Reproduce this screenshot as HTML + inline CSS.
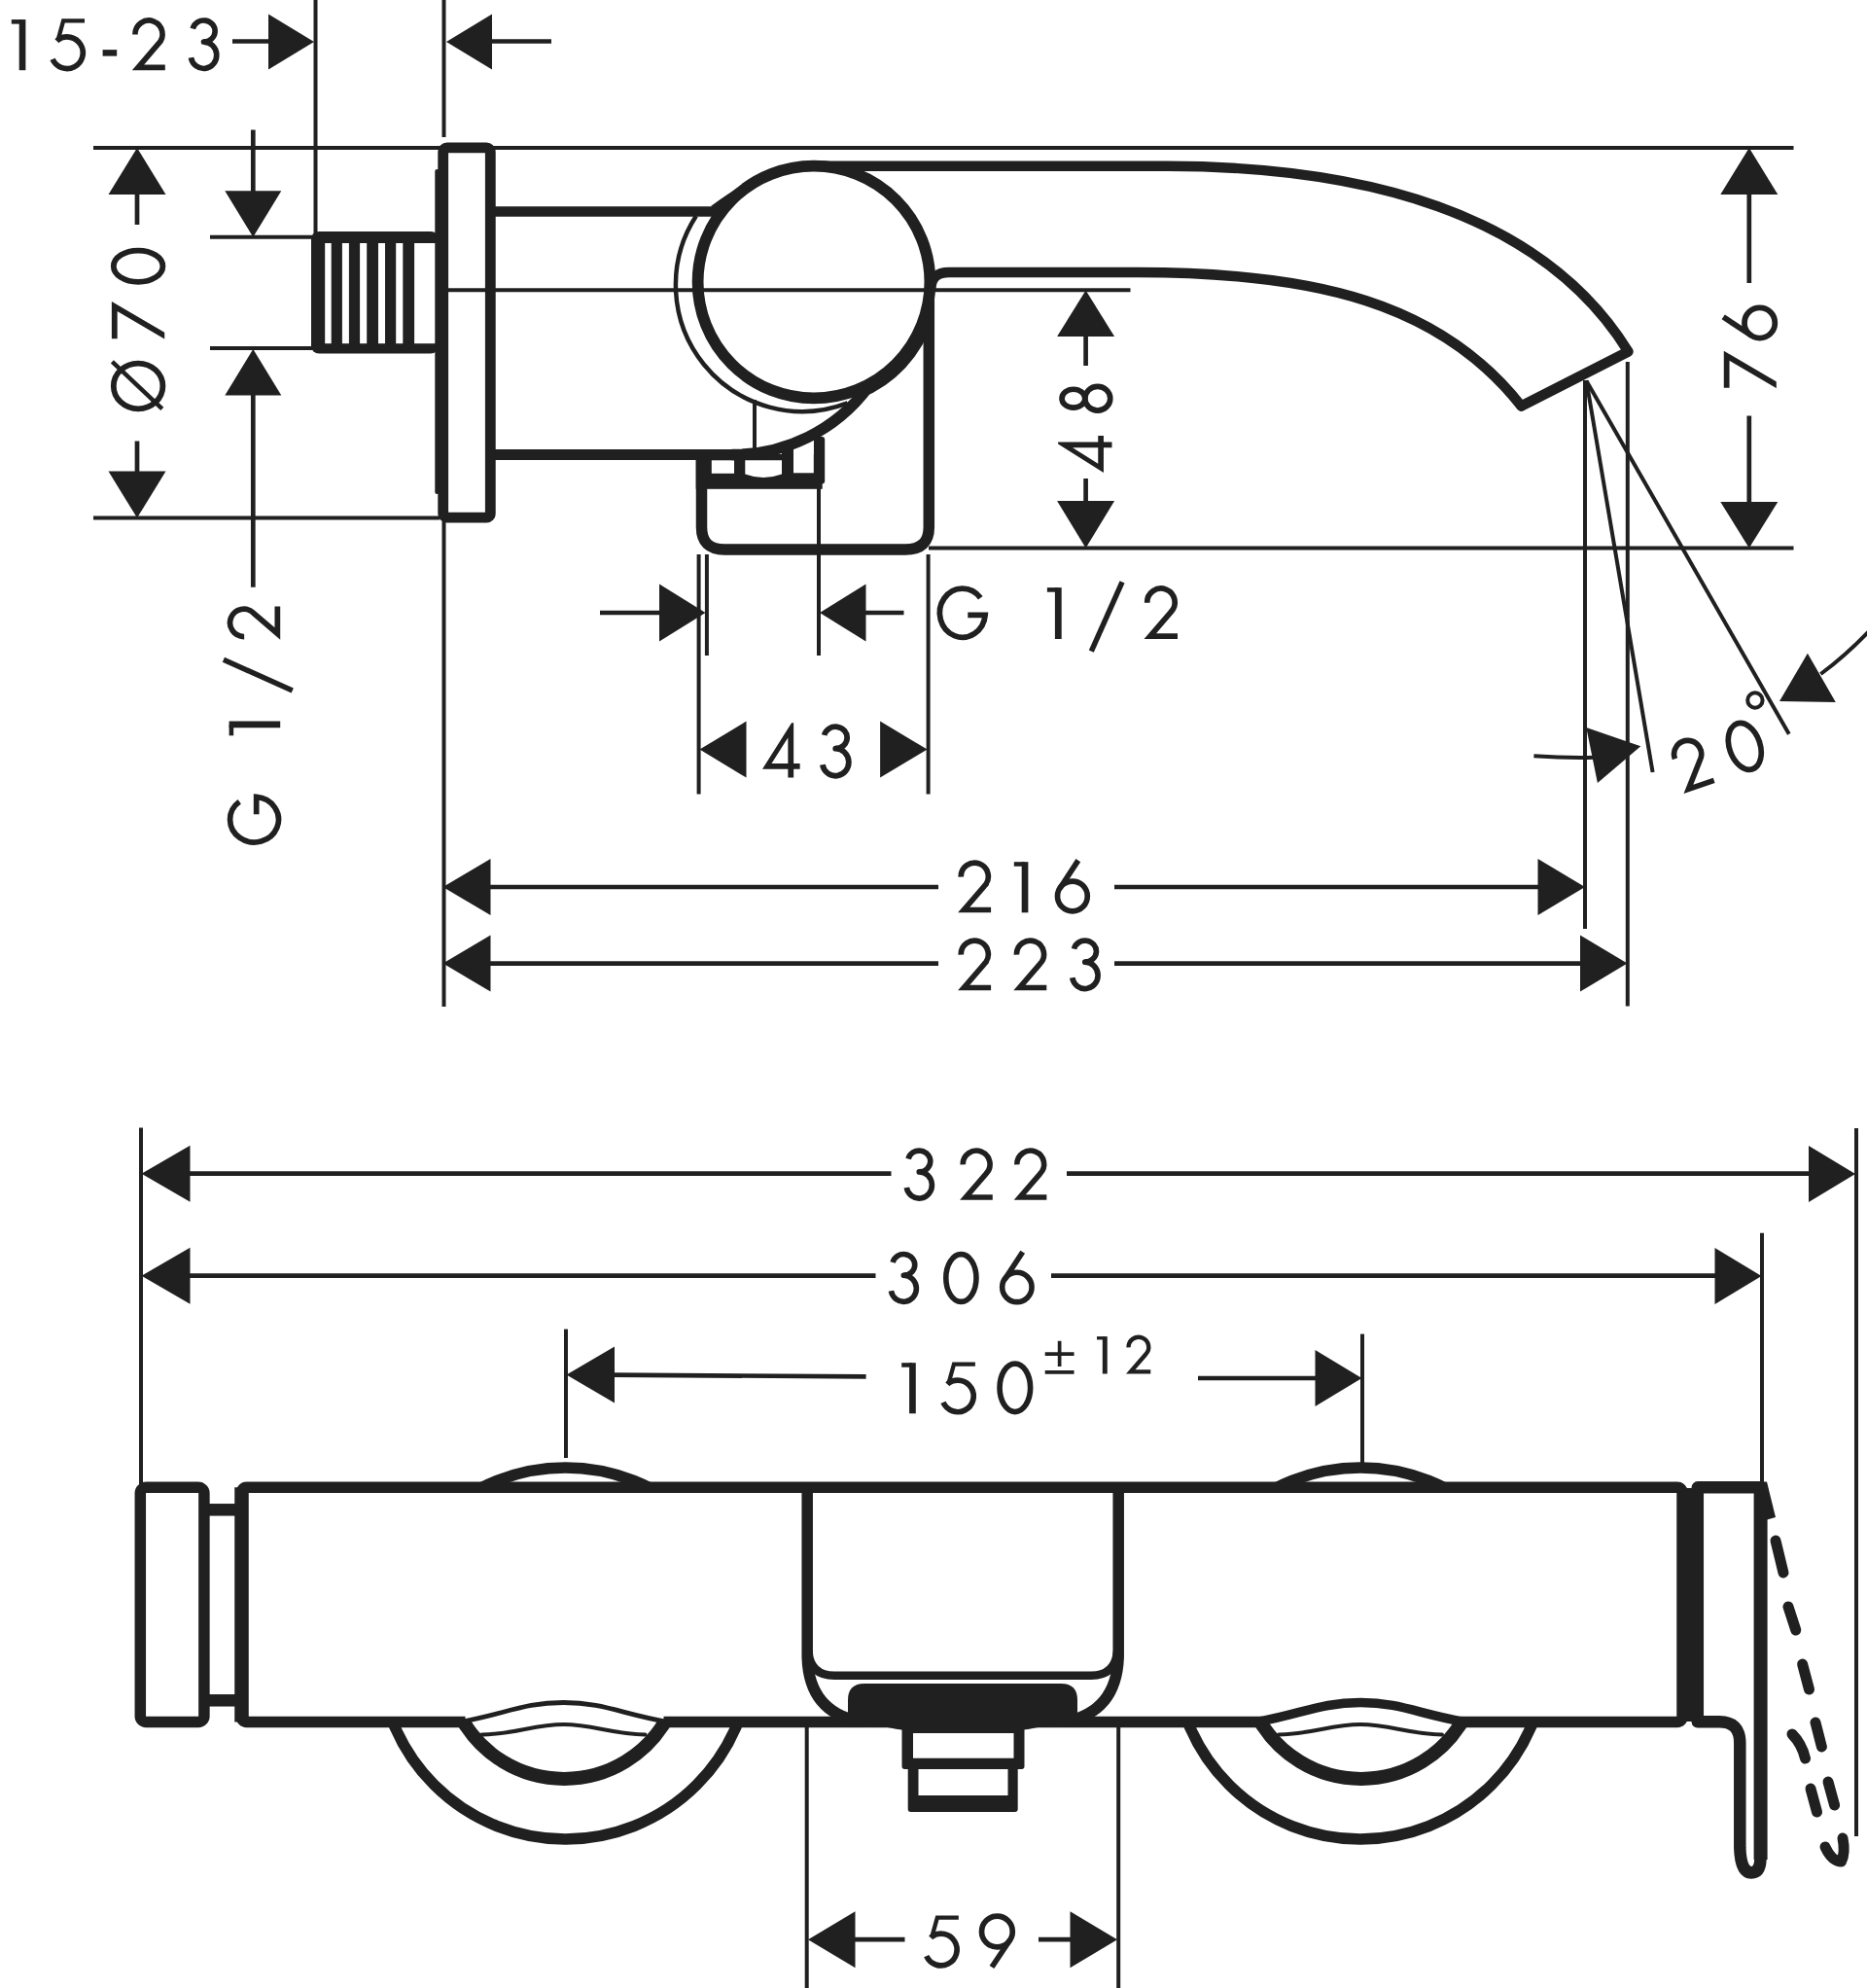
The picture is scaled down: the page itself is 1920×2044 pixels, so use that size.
<!DOCTYPE html>
<html lang="en">
<head>
<meta charset="utf-8">
<title>Dimension drawing</title>
<style>
html,body{margin:0;padding:0;background:#fff;font-family:"Liberation Sans",sans-serif;}
body{width:1920px;height:2044px;overflow:hidden;}
svg{display:block;}
</style>
</head>
<body>
<svg width="1920" height="2044" viewBox="0 0 1920 2044" stroke="#202020" fill="none">
<defs><clipPath id="gclip"><rect x="-40" y="-3" width="200" height="103"/></clipPath></defs>
<rect x="0" y="0" width="1920" height="2044" fill="#fff" stroke="none"/>
<!-- top view : dimension lines -->
<line x1="324.5" y1="0" x2="324.5" y2="241" stroke-width="4.0" stroke-linecap="butt"/>
<line x1="456.5" y1="0" x2="456.5" y2="141" stroke-width="4.0" stroke-linecap="butt"/>
<line x1="456.5" y1="536" x2="456.5" y2="1035" stroke-width="4.0" stroke-linecap="butt"/>
<line x1="96" y1="152" x2="1844.5" y2="152" stroke-width="4.0" stroke-linecap="butt"/>
<line x1="96" y1="532.6" x2="452" y2="532.6" stroke-width="4.0" stroke-linecap="butt"/>
<g transform="translate(11.80,18.20) scale(0.5400)" stroke-width="10.50" fill="none"><path d="M0,7.7 H20" stroke-width="8.4" stroke-linecap="butt"/><path d="M20.8,3.5 V100" stroke-width="12.4" stroke-linecap="butt"/></g>
<g transform="translate(51.90,18.20) scale(0.5400)" stroke-width="10.50" fill="none"><path d="M65,6 H24.5 L14.5,42" stroke-width="8" stroke-linejoin="miter" stroke-linecap="butt"/><path d="M12.2,44.5 L14.5,42 A30.2,30.2 0 1 1 4,79" stroke-linejoin="bevel" stroke-linecap="butt"/></g>
<g transform="translate(105.60,18.20) scale(0.5400)" stroke-width="10.50" fill="none"><path d="M0,67 H27" stroke-linecap="butt" stroke-width="12"/></g>
<g transform="translate(135.50,18.20) scale(0.5400)" stroke-width="10.50" fill="none"><path d="M6.4,32 A26,26 0 1 1 50.8,49.6 L12,94.75 H63.5" stroke-linejoin="miter" stroke-linecap="butt"/></g>
<g transform="translate(194.00,18.20) scale(0.5400)" stroke-width="10.50" fill="none"><path d="M7.8,21 A21.5,20.4 0 1 1 28.7,46 A24.6,25.4 0 1 1 4.5,76" stroke-linejoin="round" stroke-linecap="butt"/></g>
<line x1="239" y1="42.5" x2="280" y2="42.5" stroke-width="4.7" stroke-linecap="butt"/>
<polygon points="323.0,43.0 276.0,14.5 276.0,71.5" fill="#202020" stroke="none"/>
<polygon points="459.0,43.0 506.0,14.5 506.0,71.5" fill="#202020" stroke="none"/>
<line x1="503" y1="42.5" x2="567" y2="42.5" stroke-width="4.7" stroke-linecap="butt"/>
<polygon points="141.0,152.0 111.5,200.0 170.5,200.0" fill="#202020" stroke="none"/>
<line x1="141" y1="198" x2="141" y2="231" stroke-width="4.7" stroke-linecap="butt"/>
<line x1="141" y1="453.5" x2="141" y2="487" stroke-width="4.7" stroke-linecap="butt"/>
<polygon points="141.0,532.6 111.5,484.6 170.5,484.6" fill="#202020" stroke="none"/>
<g transform="translate(113.90,423.20) rotate(-90) scale(0.5530)" stroke-width="10.50" fill="none"><ellipse cx="47.5" cy="51" rx="42.25" ry="45.75"/><path d="M93,2.7 L5.3,95.6" stroke-linecap="butt" stroke-width="8"/></g>
<g transform="translate(113.90,348.20) rotate(-90) scale(0.5530)" stroke-width="10.50" fill="none"><path d="M0,7 H60 L1.8,106" stroke-linejoin="miter" stroke-linecap="butt" clip-path="url(#gclip)"/></g>
<g transform="translate(113.90,292.80) rotate(-90) scale(0.5530)" stroke-width="10.50" fill="none"><ellipse cx="34.5" cy="51" rx="29.25" ry="45.75"/></g>
<line x1="260.3" y1="133.5" x2="260.3" y2="198" stroke-width="4.7" stroke-linecap="butt"/>
<polygon points="260.3,243.7 231.3,196.2 289.3,196.2" fill="#202020" stroke="none"/>
<line x1="216" y1="243.7" x2="324" y2="243.7" stroke-width="4.0" stroke-linecap="butt"/>
<line x1="216" y1="358" x2="324" y2="358" stroke-width="4.0" stroke-linecap="butt"/>
<polygon points="260.3,359.0 231.3,406.5 289.3,406.5" fill="#202020" stroke="none"/>
<line x1="260.3" y1="405" x2="260.3" y2="603.7" stroke-width="4.7" stroke-linecap="butt"/>
<g transform="translate(233.70,868.80) rotate(-90) scale(0.5450)" stroke-width="10.50" fill="none"><path d="M81.8,23 A42.75,45.75 0 1 0 90.6,55 H58" stroke-linejoin="miter" stroke-linecap="butt"/></g>
<g transform="translate(233.70,756.30) rotate(-90) scale(0.5450)" stroke-width="10.50" fill="none"><path d="M0,7.7 H20" stroke-width="8.4" stroke-linecap="butt"/><path d="M20.8,3.5 V100" stroke-width="12.4" stroke-linecap="butt"/></g>
<g transform="translate(233.70,713.20) rotate(-90) scale(0.5450)" stroke-width="10.50" fill="none"><path d="M64,-7 L6,123" stroke-linecap="butt" stroke-width="10"/></g>
<g transform="translate(233.70,658.00) rotate(-90) scale(0.5450)" stroke-width="10.50" fill="none"><path d="M6.4,32 A26,26 0 1 1 50.8,49.6 L12,94.75 H63.5" stroke-linejoin="miter" stroke-linecap="butt"/></g>
<polygon points="1116.6,298.5 1087.1,346.0 1146.1,346.0" fill="#202020" stroke="none"/>
<line x1="1116.6" y1="345" x2="1116.6" y2="376" stroke-width="4.7" stroke-linecap="butt"/>
<line x1="1116.6" y1="492" x2="1116.6" y2="518" stroke-width="4.7" stroke-linecap="butt"/>
<polygon points="1116.6,563.5 1087.1,515.0 1146.1,515.0" fill="#202020" stroke="none"/>
<g transform="translate(1089.20,486.10) rotate(-90) scale(0.5430)" stroke-width="10.50" fill="none"><path d="M0,84.25 L54.5,-2 H58.25 V73.75 H70 V84.25 H58.25 V100 H47.75 V84.25 Z M47.75,73.75 V25.5 L17.2,73.75 Z" fill="#202020" fill-rule="evenodd" stroke="none"/></g>
<g transform="translate(1089.20,424.90) rotate(-90) scale(0.5430)" stroke-width="10.50" fill="none"><ellipse cx="28" cy="27.1" rx="17.4" ry="21.9"/><ellipse cx="28" cy="72.9" rx="22.75" ry="23.9"/></g>
<line x1="955" y1="563.5" x2="1844.5" y2="563.5" stroke-width="4.0" stroke-linecap="butt"/>
<polygon points="1798.8,152.0 1769.3,200.0 1828.3,200.0" fill="#202020" stroke="none"/>
<line x1="1798.8" y1="198" x2="1798.8" y2="291" stroke-width="4.7" stroke-linecap="butt"/>
<line x1="1798.8" y1="427.5" x2="1798.8" y2="518" stroke-width="4.7" stroke-linecap="butt"/>
<polygon points="1798.8,563.5 1769.3,516.0 1828.3,516.0" fill="#202020" stroke="none"/>
<g transform="translate(1771.80,398.70) rotate(-90) scale(0.5500)" stroke-width="10.50" fill="none"><path d="M0,7 H60 L1.8,106" stroke-linejoin="miter" stroke-linecap="butt" clip-path="url(#gclip)"/></g>
<g transform="translate(1771.80,350.40) rotate(-90) scale(0.5500)" stroke-width="10.50" fill="none"><circle cx="33.5" cy="68.8" r="28.5"/><path d="M44.5,0.7 L9.7,53.7" stroke-linecap="butt"/></g>
<line x1="718.6" y1="570" x2="718.6" y2="816.5" stroke-width="4.0" stroke-linecap="butt"/>
<line x1="726.9" y1="570" x2="726.9" y2="674" stroke-width="4.0" stroke-linecap="butt"/>
<line x1="842" y1="500" x2="842" y2="674" stroke-width="4.0" stroke-linecap="butt"/>
<line x1="954.6" y1="570" x2="954.6" y2="816.5" stroke-width="4.0" stroke-linecap="butt"/>
<line x1="617" y1="630" x2="680" y2="630" stroke-width="4.7" stroke-linecap="butt"/>
<polygon points="725.5,630.0 678.0,600.5 678.0,659.5" fill="#202020" stroke="none"/>
<polygon points="843.0,630.0 890.5,600.5 890.5,659.5" fill="#202020" stroke="none"/>
<line x1="888" y1="630" x2="929.5" y2="630" stroke-width="4.7" stroke-linecap="butt"/>
<g transform="translate(963.50,602.20) scale(0.5480)" stroke-width="10.50" fill="none"><path d="M81.8,23 A42.75,45.75 0 1 0 90.6,55 H58" stroke-linejoin="miter" stroke-linecap="butt"/></g>
<g transform="translate(1076.90,602.20) scale(0.5480)" stroke-width="10.50" fill="none"><path d="M0,7.7 H20" stroke-width="8.4" stroke-linecap="butt"/><path d="M20.8,3.5 V100" stroke-width="12.4" stroke-linecap="butt"/></g>
<g transform="translate(1119.00,602.20) scale(0.5480)" stroke-width="10.50" fill="none"><path d="M64,-7 L6,123" stroke-linecap="butt" stroke-width="10"/></g>
<g transform="translate(1176.20,602.20) scale(0.5480)" stroke-width="10.50" fill="none"><path d="M6.4,32 A26,26 0 1 1 50.8,49.6 L12,94.75 H63.5" stroke-linejoin="miter" stroke-linecap="butt"/></g>
<polygon points="719.5,770.6 767.5,741.6 767.5,799.6" fill="#202020" stroke="none"/>
<polygon points="953.6,770.6 905.1,741.6 905.1,799.6" fill="#202020" stroke="none"/>
<g transform="translate(784.00,744.30) scale(0.5520)" stroke-width="10.50" fill="none"><path d="M0,84.25 L54.5,-2 H58.25 V73.75 H70 V84.25 H58.25 V100 H47.75 V84.25 Z M47.75,73.75 V25.5 L17.2,73.75 Z" fill="#202020" fill-rule="evenodd" stroke="none"/></g>
<g transform="translate(843.40,744.30) scale(0.5520)" stroke-width="10.50" fill="none"><path d="M7.8,21 A21.5,20.4 0 1 1 28.7,46 A24.6,25.4 0 1 1 4.5,76" stroke-linejoin="round" stroke-linecap="butt"/></g>
<line x1="1630" y1="391" x2="1630" y2="955" stroke-width="4.0" stroke-linecap="butt"/>
<line x1="1673.8" y1="372" x2="1673.8" y2="1034.5" stroke-width="4.0" stroke-linecap="butt"/>
<line x1="1631.4" y1="391.4" x2="1699.6" y2="794" stroke-width="4.0" stroke-linecap="butt"/>
<line x1="1631.4" y1="391.4" x2="1839.8" y2="754.7" stroke-width="4.0" stroke-linecap="butt"/>
<polygon points="455.5,912.0 504.5,883.0 504.5,941.0" fill="#202020" stroke="none"/>
<line x1="502" y1="912" x2="965" y2="912" stroke-width="4.7" stroke-linecap="butt"/>
<g transform="translate(984.80,884.30) scale(0.5400)" stroke-width="10.50" fill="none"><path d="M6.4,32 A26,26 0 1 1 50.8,49.6 L12,94.75 H63.5" stroke-linejoin="miter" stroke-linecap="butt"/></g>
<g transform="translate(1042.80,884.30) scale(0.5400)" stroke-width="10.50" fill="none"><path d="M0,7.7 H20" stroke-width="8.4" stroke-linecap="butt"/><path d="M20.8,3.5 V100" stroke-width="12.4" stroke-linecap="butt"/></g>
<g transform="translate(1084.80,884.30) scale(0.5400)" stroke-width="10.50" fill="none"><circle cx="33.5" cy="68.8" r="28.5"/><path d="M44.5,0.7 L9.7,53.7" stroke-linecap="butt"/></g>
<line x1="1146" y1="912" x2="1584" y2="912" stroke-width="4.7" stroke-linecap="butt"/>
<polygon points="1630.0,912.0 1581.5,883.0 1581.5,941.0" fill="#202020" stroke="none"/>
<polygon points="455.5,990.6 504.5,961.6 504.5,1019.6" fill="#202020" stroke="none"/>
<line x1="502" y1="990.6" x2="965" y2="990.6" stroke-width="4.7" stroke-linecap="butt"/>
<g transform="translate(984.80,964.30) scale(0.5400)" stroke-width="10.50" fill="none"><path d="M6.4,32 A26,26 0 1 1 50.8,49.6 L12,94.75 H63.5" stroke-linejoin="miter" stroke-linecap="butt"/></g>
<g transform="translate(1042.00,964.30) scale(0.5400)" stroke-width="10.50" fill="none"><path d="M6.4,32 A26,26 0 1 1 50.8,49.6 L12,94.75 H63.5" stroke-linejoin="miter" stroke-linecap="butt"/></g>
<g transform="translate(1100.30,964.30) scale(0.5400)" stroke-width="10.50" fill="none"><path d="M7.8,21 A21.5,20.4 0 1 1 28.7,46 A24.6,25.4 0 1 1 4.5,76" stroke-linejoin="round" stroke-linecap="butt"/></g>
<line x1="1146" y1="990.6" x2="1627" y2="990.6" stroke-width="4.7" stroke-linecap="butt"/>
<polygon points="1673.5,990.6 1625.0,961.6 1625.0,1019.6" fill="#202020" stroke="none"/>
<path d="M1577.4,777.3 Q1610,779.5 1640,778.8" stroke-width="4.0" fill="none" stroke-linejoin="round" stroke-linecap="butt" />
<polygon points="1687.3,767.3 1631.3,748.0 1642.9,804.9" fill="#202020" stroke="none"/>
<polygon points="1830.0,721.0 1858.9,671.8 1887.8,722.0" fill="#202020" stroke="none"/>
<path d="M1872.4,693 Q1898,674 1922,649" stroke-width="4.0" fill="none" stroke-linejoin="round" stroke-linecap="butt" />
<g transform="translate(1713.6,765.1) rotate(-19) scale(0.5400)" stroke-width="10.50" fill="none"><path d="M6.4,32 A26,26 0 1 1 50.8,49.6 L12,94.75 H63.5" stroke-linejoin="miter" stroke-linecap="butt"/></g>
<g transform="translate(1767.7,747.4) rotate(-19) scale(0.5400)" stroke-width="10.50" fill="none"><ellipse cx="34.5" cy="51" rx="29.25" ry="45.75"/></g>
<circle cx="1804.9" cy="720" r="7.7" stroke-width="4" fill="none"/>
<!-- top view : object -->
<rect x="320" y="238" width="131" height="125.5" rx="8" fill="#202020" stroke="none"/>
<rect x="334.2" y="250" width="6.5" height="103.2" fill="#fff" stroke="none"/>
<rect x="351.9" y="250" width="7.0" height="103.2" fill="#fff" stroke="none"/>
<rect x="370.1" y="250" width="7.1" height="103.2" fill="#fff" stroke="none"/>
<rect x="389" y="250" width="7.0" height="103.2" fill="#fff" stroke="none"/>
<rect x="407.2" y="250" width="7.1" height="103.2" fill="#fff" stroke="none"/>
<rect x="426.1" y="250" width="23" height="103.2" fill="#fff" stroke="none"/>
<rect x="715.7" y="467" width="130" height="35.8" fill="#202020" stroke="none"/>
<rect x="804" y="458" width="12" height="30" fill="#202020" stroke="none"/>
<rect x="836.8" y="449" width="11.4" height="48.5" rx="3" fill="#202020" stroke="none"/>
<rect x="731.8" y="473.3" width="23.2" height="13.5" fill="#fff" stroke="none"/>
<path d="M766.3,473.3 H804 V487.5 Q785,494.5 766.3,487.5 Z" fill="#fff" stroke="none"/>
<rect x="816" y="440" width="20.8" height="46.3" fill="#fff" stroke="none"/>
<line x1="506" y1="217.5" x2="740" y2="217.5" stroke-width="10.6" stroke-linecap="butt"/>
<path d="M731,212 Q775,180 800,172.5 Q817,167 836,165.1 L837,172 A119.4,119.4 0 0 0 742.5,217.5 Z" fill="#202020" stroke="none"/>
<line x1="506" y1="467.5" x2="756" y2="467.5" stroke-width="10.8" stroke-linecap="butt"/>
<path d="M752.49,467.49 A173.3,173.3 0 0 0 892.40,398.49" stroke-width="11.5" fill="none" stroke-linejoin="round" stroke-linecap="butt" />
<path d="M883.15,404.23 A123.2,123.2 0 0 0 954.17,328.07" stroke-width="11.5" fill="none" stroke-linejoin="round" stroke-linecap="butt" />
<path d="M721.5,470 V542 Q721.5,565 745,565 H931 Q955.3,565 955.3,542 V295" stroke-width="11.5" fill="none" stroke-linejoin="round" stroke-linecap="butt" />
<line x1="776" y1="411" x2="776" y2="466" stroke-width="4.0" stroke-linecap="butt"/>
<path d="M715.89,222.04 A130.1,130.1 0 0 0 871.62,414.36" stroke-width="4.5" fill="none" stroke-linejoin="round" stroke-linecap="butt" />
<circle cx="837" cy="290" r="119.4" stroke-width="11.8" fill="#fff"/>
<line x1="459" y1="298.2" x2="1162.5" y2="298.2" stroke-width="4.0" stroke-linecap="butt"/>
<path d="M837,170.8 H1200 C1399.1,171 1585.2,217.2 1674.5,361.5 L1564.5,417.5" stroke-width="10.4" fill="none" stroke-linejoin="round" stroke-linecap="round" />
<path d="M957.5,296 Q958,280 976,280 H1170 C1353.6,280 1481.7,312.2 1564.5,417.5" stroke-width="10.4" fill="none" stroke-linejoin="round" stroke-linecap="round" />
<rect x="455.7" y="151.8" width="48.6" height="380.4" rx="4" stroke-width="10.8" fill="#fff"/>
<line x1="456.5" y1="298.2" x2="506" y2="298.2" stroke-width="4.0" stroke-linecap="butt"/>
<line x1="449.3" y1="176" x2="449.3" y2="506" stroke-width="4" stroke-linecap="round"/>
<!-- bottom view : dimensions -->
<line x1="145" y1="1159.5" x2="145" y2="1526" stroke-width="4.0" stroke-linecap="butt"/>
<line x1="1909" y1="1160" x2="1909" y2="1888" stroke-width="4.0" stroke-linecap="butt"/>
<line x1="1812" y1="1267.7" x2="1812" y2="1526" stroke-width="4.0" stroke-linecap="butt"/>
<polygon points="145.5,1206.7 195.5,1177.7 195.5,1235.7" fill="#202020" stroke="none"/>
<line x1="193" y1="1206.7" x2="916.5" y2="1206.7" stroke-width="4.7" stroke-linecap="butt"/>
<g transform="translate(929.90,1180.30) scale(0.5350)" stroke-width="10.50" fill="none"><path d="M7.8,21 A21.5,20.4 0 1 1 28.7,46 A24.6,25.4 0 1 1 4.5,76" stroke-linejoin="round" stroke-linecap="butt"/></g>
<g transform="translate(986.80,1180.30) scale(0.5350)" stroke-width="10.50" fill="none"><path d="M6.4,32 A26,26 0 1 1 50.8,49.6 L12,94.75 H63.5" stroke-linejoin="miter" stroke-linecap="butt"/></g>
<g transform="translate(1042.40,1180.30) scale(0.5350)" stroke-width="10.50" fill="none"><path d="M6.4,32 A26,26 0 1 1 50.8,49.6 L12,94.75 H63.5" stroke-linejoin="miter" stroke-linecap="butt"/></g>
<line x1="1097" y1="1206.7" x2="1862" y2="1206.7" stroke-width="4.7" stroke-linecap="butt"/>
<polygon points="1908.0,1207.0 1860.0,1178.0 1860.0,1236.0" fill="#202020" stroke="none"/>
<polygon points="145.5,1311.7 195.5,1282.7 195.5,1340.7" fill="#202020" stroke="none"/>
<line x1="193" y1="1311.7" x2="900.5" y2="1311.7" stroke-width="4.7" stroke-linecap="butt"/>
<g transform="translate(914.00,1286.80) scale(0.5330)" stroke-width="10.50" fill="none"><path d="M7.8,21 A21.5,20.4 0 1 1 28.7,46 A24.6,25.4 0 1 1 4.5,76" stroke-linejoin="round" stroke-linecap="butt"/></g>
<g transform="translate(970.00,1286.80) scale(0.5330)" stroke-width="10.50" fill="none"><ellipse cx="34.5" cy="51" rx="29.25" ry="45.75"/></g>
<g transform="translate(1028.00,1286.80) scale(0.5330)" stroke-width="10.50" fill="none"><circle cx="33.5" cy="68.8" r="28.5"/><path d="M44.5,0.7 L9.7,53.7" stroke-linecap="butt"/></g>
<line x1="1081" y1="1311.7" x2="1766" y2="1311.7" stroke-width="4.7" stroke-linecap="butt"/>
<polygon points="1811.5,1312.0 1763.5,1283.0 1763.5,1341.0" fill="#202020" stroke="none"/>
<line x1="582" y1="1366.6" x2="582" y2="1499" stroke-width="4.0" stroke-linecap="butt"/>
<polygon points="582.5,1413.5 632.0,1384.5 632.0,1442.5" fill="#202020" stroke="none"/>
<line x1="629" y1="1413.7" x2="890.6" y2="1415.3" stroke-width="4.7" stroke-linecap="butt"/>
<g transform="translate(927.20,1399.30) scale(0.5400)" stroke-width="10.50" fill="none"><path d="M0,7.7 H20" stroke-width="8.4" stroke-linecap="butt"/><path d="M20.8,3.5 V100" stroke-width="12.4" stroke-linecap="butt"/></g>
<g transform="translate(967.80,1399.30) scale(0.5400)" stroke-width="10.50" fill="none"><path d="M65,6 H24.5 L14.5,42" stroke-width="8" stroke-linejoin="miter" stroke-linecap="butt"/><path d="M12.2,44.5 L14.5,42 A30.2,30.2 0 1 1 4,79" stroke-linejoin="bevel" stroke-linecap="butt"/></g>
<g transform="translate(1025.20,1399.30) scale(0.5400)" stroke-width="10.50" fill="none"><ellipse cx="34.5" cy="51" rx="29.25" ry="45.75"/></g>
<g transform="translate(1074.70,1372.70) scale(0.3980)" stroke-width="9.80" fill="none"><path d="M0,49 H75 M37.5,15 V81 M0,96 H75" stroke-linecap="butt" stroke-width="9.3"/></g>
<g transform="translate(1128.00,1372.70) scale(0.3980)" stroke-width="11.56" fill="none"><path d="M0,7.7 H20" stroke-width="8.4" stroke-linecap="butt"/><path d="M20.8,3.5 V100" stroke-width="12.4" stroke-linecap="butt"/></g>
<g transform="translate(1158.00,1372.70) scale(0.3980)" stroke-width="11.06" fill="none"><path d="M6.4,32 A26,26 0 1 1 50.8,49.6 L12,94.75 H63.5" stroke-linejoin="miter" stroke-linecap="butt"/></g>
<line x1="1232" y1="1417" x2="1355" y2="1417" stroke-width="4.7" stroke-linecap="butt"/>
<polygon points="1400.5,1417.0 1352.5,1388.0 1352.5,1446.0" fill="#202020" stroke="none"/>
<line x1="1401" y1="1371.6" x2="1401" y2="1506" stroke-width="4.0" stroke-linecap="butt"/>
<line x1="829.7" y1="1776" x2="829.7" y2="2044" stroke-width="4.0" stroke-linecap="butt"/>
<line x1="1150.2" y1="1776" x2="1150.2" y2="2044" stroke-width="4.0" stroke-linecap="butt"/>
<polygon points="831.0,1994.2 879.5,1965.2 879.5,2023.2" fill="#202020" stroke="none"/>
<line x1="877" y1="1994.2" x2="930.5" y2="1994.2" stroke-width="4.7" stroke-linecap="butt"/>
<g transform="translate(950.60,1968.30) scale(0.5420)" stroke-width="10.50" fill="none"><path d="M65,6 H24.5 L14.5,42" stroke-width="8" stroke-linejoin="miter" stroke-linecap="butt"/><path d="M12.2,44.5 L14.5,42 A30.2,30.2 0 1 1 4,79" stroke-linejoin="bevel" stroke-linecap="butt"/></g>
<g transform="translate(1006.70,1968.30) scale(0.5420)" stroke-width="10.50" fill="none"><circle cx="34.5" cy="32.5" r="29.3"/><path d="M24.5,100 L58.8,48.8" stroke-linecap="butt"/></g>
<line x1="1068" y1="1994.2" x2="1103" y2="1994.2" stroke-width="4.7" stroke-linecap="butt"/>
<polygon points="1149.0,1994.2 1100.5,1965.2 1100.5,2023.2" fill="#202020" stroke="none"/>
<!-- bottom view : object -->
<circle cx="581.5" cy="1700" r="191" stroke-width="11.5" fill="none"/>
<circle cx="1399" cy="1700" r="191" stroke-width="11.5" fill="none"/>
<rect x="248.5" y="1529.3" width="1481.5" height="241.2" rx="5" stroke-width="11.5" fill="#fff"/>
<path d="M478.5,1764 Q579.5,1724 682.5,1764 V1778 H478.5 Z" fill="#fff" stroke="none"/>
<path d="M477.0,1771 A121,121 0 0 0 683.5,1771" stroke-width="14" fill="none" stroke-linejoin="round" stroke-linecap="butt" />
<path d="M475.5,1770 C519.5,1762 539.5,1750.5 579.5,1750.5 C619.5,1750.5 639.5,1762 684.5,1770" stroke-width="4.8" fill="none" stroke-linejoin="round" stroke-linecap="butt" />
<path d="M495.5,1783.5 C529.5,1783 549.5,1773 579.5,1773 C609.5,1773 629.5,1783 663.5,1783.5" stroke-width="4.0" fill="none" stroke-linejoin="round" stroke-linecap="round" />
<path d="M1298,1764 Q1399,1724 1502,1764 V1778 H1298 Z" fill="#fff" stroke="none"/>
<path d="M1296.5,1771 A121,121 0 0 0 1503,1771" stroke-width="14" fill="none" stroke-linejoin="round" stroke-linecap="butt" />
<path d="M1295,1770 C1339,1762 1359,1750.5 1399,1750.5 C1439,1750.5 1459,1762 1504,1770" stroke-width="9.5" fill="none" stroke-linejoin="round" stroke-linecap="butt" />
<path d="M1315,1783.5 C1349,1783 1369,1773 1399,1773 C1429,1773 1449,1783 1483,1783.5" stroke-width="4.0" fill="none" stroke-linejoin="round" stroke-linecap="round" />
<line x1="248.5" y1="1529.3" x2="248.5" y2="1770.5" stroke-width="14.5" stroke-linecap="butt"/>
<rect x="144.3" y="1529.3" width="65.6" height="241.2" rx="6" stroke-width="11.5" fill="#fff"/>
<line x1="213" y1="1552.3" x2="245" y2="1552.3" stroke-width="12.5" stroke-linecap="butt"/>
<line x1="213" y1="1748.3" x2="245" y2="1748.3" stroke-width="12.5" stroke-linecap="butt"/>
<path d="M830.2,1530 V1704 Q832,1760 884,1770" stroke-width="11.5" fill="none" stroke-linejoin="round" stroke-linecap="butt" />
<path d="M1150.2,1530 V1704 Q1148,1760 1096,1770" stroke-width="11.5" fill="none" stroke-linejoin="round" stroke-linecap="butt" />
<path d="M831.5,1698 Q833,1722.7 858,1722.7 H1122 Q1147,1722.7 1148.9,1698" stroke-width="8.5" fill="none" stroke-linejoin="round" stroke-linecap="butt" />
<path d="M872,1748 Q872,1731 889,1731 H1091 Q1108,1731 1108,1748 V1764 Q1090,1773 1050,1779 Q990,1785 930,1779 Q890,1773 872,1764 Z" fill="#202020" stroke="none"/>
<rect x="927.5" y="1776" width="126" height="43" rx="3" fill="#202020" stroke="none"/>
<rect x="933.7" y="1815" width="113" height="48" rx="3" fill="#202020" stroke="none"/>
<rect x="939" y="1782" width="103.5" height="25.7" fill="#fff" stroke="none"/>
<rect x="944.5" y="1819" width="92" height="27" fill="#fff" stroke="none"/>
<rect x="1745.5" y="1529.3" width="30" height="241.2" fill="#fff" stroke="none"/>
<path d="M1745.8,1529.3 H1810.4 V1912 Q1810,1925 1801,1925.5 Q1790,1925 1789.3,1900 V1792 Q1789.3,1770.3 1768,1770.3 H1745.8 Z" stroke-width="12.5" fill="none" stroke-linejoin="round" stroke-linecap="round" />
<line x1="1810.6" y1="1530" x2="1810.6" y2="1912" stroke-width="14" stroke-linecap="butt"/>
<rect x="1727" y="1530" width="22" height="240" fill="#202020" stroke="none"/>
<path d="M1803,1523.5 H1817 L1826,1560 L1812,1564 Z" fill="#202020" stroke="none"/>
<line x1="1826" y1="1584" x2="1834" y2="1617" stroke-width="11" stroke-linecap="round"/>
<line x1="1839" y1="1652" x2="1846.8" y2="1676" stroke-width="11" stroke-linecap="round"/>
<line x1="1853.6" y1="1711" x2="1860.5" y2="1737" stroke-width="11" stroke-linecap="round"/>
<line x1="1867" y1="1771" x2="1873.4" y2="1796" stroke-width="11" stroke-linecap="round"/>
<line x1="1880" y1="1832" x2="1886.6" y2="1856" stroke-width="11" stroke-linecap="round"/>
<line x1="1862" y1="1839" x2="1868.5" y2="1863" stroke-width="11" stroke-linecap="round"/>
<path d="M1843,1783 Q1853,1793 1856.5,1808" stroke-width="11" fill="none" stroke-linejoin="round" stroke-linecap="round" />
<path d="M1877,1899 Q1884,1914 1893.5,1914 Q1898,1905 1895,1890" stroke-width="11" fill="none" stroke-linejoin="round" stroke-linecap="round" />
</svg>
</body>
</html>
